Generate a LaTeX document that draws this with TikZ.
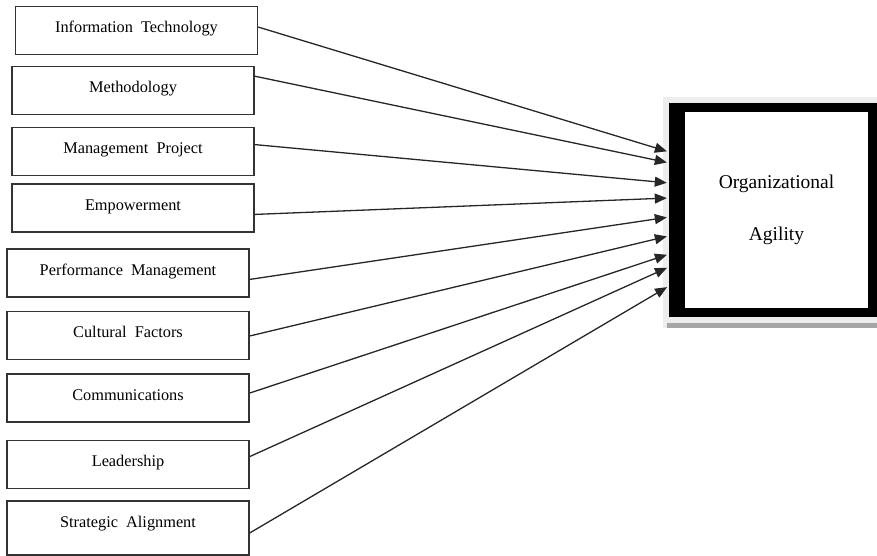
\documentclass[tikz,border=0pt]{standalone}
\usepackage{fontspec}
\setmainfont{Liberation Serif}
\usetikzlibrary{arrows.meta,calc}

\begin{document}
\begin{tikzpicture}[x=1pt, y=-1pt,
  factor/.style={draw=black!80, line width=1.4pt, minimum width=242pt,
    inner xsep=0pt, inner ysep=12pt, text height=14pt, text depth=10pt,
    font=\fontsize{16.3}{19}\selectfont},
  link/.style={draw=black!85, line width=1.3pt,
    -{Triangle[length=12pt,width=10pt]}, shorten >=2pt}]
  \useasboundingbox (0,0) rectangle (877,556);
  % shadow behind the target box
  \fill[black!7] (663,97) rectangle (877,328);
  \fill[black!35] (667,323) rectangle (877,328);
  \node[fill=black, minimum width=208pt, minimum height=214pt, inner sep=0pt,
    align=center, font=\fontsize{19.5}{52}\selectfont,
    path picture={\fill[white]
      ([xshift=16pt,yshift=-9pt]path picture bounding box.north west) rectangle
      ([xshift=-9pt,yshift=9pt]path picture bounding box.south east);}]
    (oa) at (773,210) {\hspace*{7pt}Organizational\\\hspace*{7pt}Agility};

  \node[factor] (it) at (136.5,30.5) {Information~~Technology};
  \node[factor] (meth) at (133,90.5) {Methodology};
  \node[factor] (mp) at (133,151.5) {Management~~Project};
  \node[factor] (emp) at (133,208) {Empowerment};
  \node[factor] (perf) at (128,273) {Performance~~Management};
  \node[factor] (cult) at (128,335.5) {Cultural~~Factors};
  \node[factor] (comm) at (128,398) {Communications};
  \node[factor] (lead) at (128,464.5) {Leadership};
  \node[factor, text depth=16pt] (strat) at (128,528) {Strategic~~Alignment};

  \foreach \n/\s/\e in {it/.43/.229, meth/.21/.280, mp/.36/.374, emp/.63/.444,
      perf/.63/.533, cult/.51/.621, comm/.40/.706, lead/.34/.766, strat/.59/.855} {
    \draw[link] ($(\n.north east)!\s!(\n.south east)$) -- ($(oa.north west)!\e!(oa.south west)$);
  }
\end{tikzpicture}
\end{document}
